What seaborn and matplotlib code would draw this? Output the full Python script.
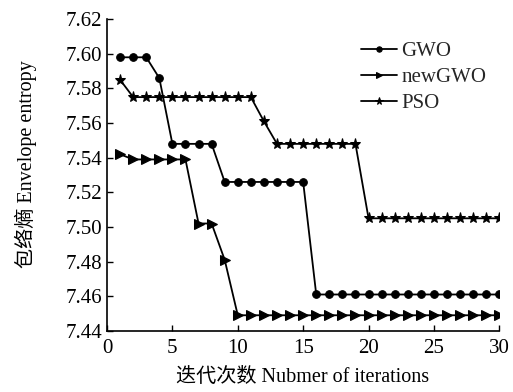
import matplotlib
matplotlib.use("Agg")
import matplotlib.pyplot as plt
import seaborn as sns
import pandas as pd

# Convergence curves of the three optimisers (envelope entropy per iteration)
iterations = list(range(1, 31))
gwo = [7.598, 7.598, 7.598, 7.586,
       7.548, 7.548, 7.548, 7.548,
       7.526, 7.526, 7.526, 7.526, 7.526, 7.526, 7.526] + [7.461] * 15
new_gwo = [7.542, 7.539, 7.539, 7.539, 7.539, 7.539,
           7.502, 7.502, 7.481] + [7.449] * 21
pso = [7.585] + [7.575] * 10 + [7.561] + [7.548] * 7 + [7.505] * 11

x_ticks = [0, 5, 10, 15, 20, 25, 30]
y_ticks = [7.44, 7.46, 7.48, 7.50, 7.52, 7.54, 7.56, 7.58, 7.60, 7.62]

sns.set_theme(style="ticks")
fonts = ["Liberation Serif", "Noto Sans CJK SC", "DejaVu Sans"]
plt.rcParams["font.family"] = fonts
plt.rcParams["axes.unicode_minus"] = False

fig = plt.figure(figsize=(5.13, 3.92), dpi=100)
ax = fig.add_axes([0.2086, 0.156, 0.7647, 0.795])

df = pd.DataFrame({"iter": iterations, "GWO": gwo, "newGWO": new_gwo, "PSO": pso})
styles = [("GWO", "o", 5.5), ("newGWO", ">", 6.5), ("PSO", "*", 8)]
for name, mk, ms in styles:
    sns.lineplot(data=df, x="iter", y=name, ax=ax, color="black", lw=1.3,
                 marker=mk, markersize=ms, markeredgecolor="black",
                 markerfacecolor="black", label=name)

ax.set_xlim(0, 30)
ax.set_ylim(7.44, 7.62)
ax.set_xticks(x_ticks)
ax.set_yticks(y_ticks)
ax.set_yticklabels([f"{v:.2f}" for v in y_ticks])
ax.tick_params(direction="in", length=4, width=1, labelsize=15, colors="black")
ax.tick_params(axis="x", pad=6)
for side in ("top", "right"):
    ax.spines[side].set_visible(False)
for side in ("left", "bottom"):
    ax.spines[side].set_color("black")
    ax.spines[side].set_linewidth(1.2)

ax.set_xlabel("迭代次数 Nubmer of iterations", fontsize=14.5, color="black")
ax.set_ylabel("包络熵 Envelope entropy", fontsize=14.5, color="black")
ax.yaxis.set_label_coords(-0.178, 0.535)
ax.xaxis.set_label_coords(0.498, -0.118)

ax.legend(loc="upper left", bbox_to_anchor=(0.61, 0.975), frameon=False,
          fontsize=15, handlelength=1.75, handletextpad=0.2,
          labelspacing=0.3, markerscale=0.7, borderpad=0.2)

fig.savefig("out.png", dpi=100)
